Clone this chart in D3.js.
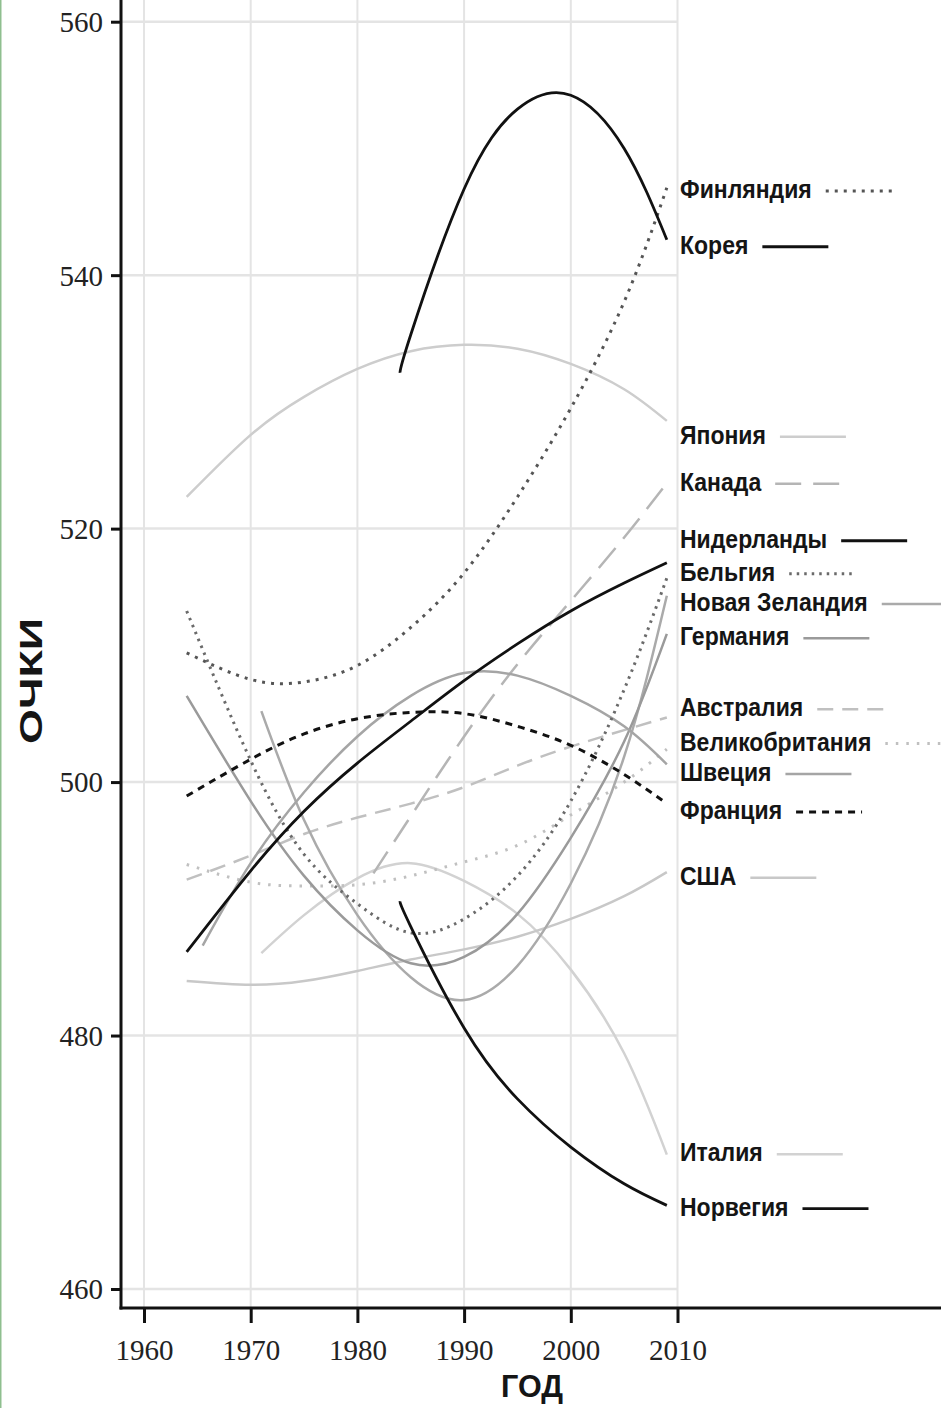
<!DOCTYPE html>
<html>
<head>
<meta charset="utf-8">
<script src="https://cdn.jsdelivr.net/npm/d3@7"></script>
<style>
  body { margin: 0; background: #fff; }
  svg { display: block; }
</style>
</head>
<body>
<div id="chart"></div>
<script>
(function () {
var W = 941, H = 1408;

// series names, in legend order
var countries = ["Финляндия", "Корея", "Япония", "Канада", "Нидерланды", "Бельгия",
  "Новая Зеландия", "Германия", "Австралия", "Великобритания", "Швеция", "Франция",
  "США", "Италия", "Норвегия"];

// years each series is sampled at
var yearsFull = [1964, 1970, 1975, 1980, 1985, 1990, 1995, 2000, 2005, 2009];
var yearsKorea = [1984, 1985, 1990, 1995, 2000, 2005, 2009];
var yearsCanada = [1981.5, 1985, 1990, 1995, 2000, 2005, 2009];
var yearsLate = [1971, 1975, 1980, 1985, 1990, 1995, 2000, 2005, 2009];
var yearsSweden = [1965.5, 1970, 1975, 1980, 1985, 1990, 1995, 2000, 2005, 2009];
var yearsNorway = [1984, 1985, 1990, 1995, 2000, 2005, 2009];

// smoothed scores
var finland = [510.2, 508.1, 507.9, 509.2, 512.2, 516.5, 522.5, 529.5, 537.9, 546.9];
var korea = [532.3, 535.3, 546.8, 553.1, 554.2, 550.0, 542.8];
var japan = [522.5, 527.4, 530.4, 532.6, 534.0, 534.5, 534.2, 533.0, 531.0, 528.5];
var canada = [492.8, 497.3, 503.6, 509.3, 514.3, 519.3, 523.6];
var netherlands = [486.6, 493.0, 497.7, 501.5, 504.8, 508.0, 510.9, 513.5, 515.7, 517.3];
var belgium = [513.5, 501.7, 494.3, 490.4, 488.1, 489.2, 492.6, 498.5, 507.3, 516.1];
var newZealand = [505.6, 497.0, 489.5, 484.6, 482.8, 485.5, 492.0, 502.0, 514.7];
var germany = [506.8, 498.5, 492.6, 488.3, 485.7, 486.2, 489.6, 495.6, 503.2, 511.7];
var australia = [492.3, 494.2, 495.9, 497.2, 498.3, 499.6, 501.3, 502.8, 504.1, 505.1];
var uk = [493.5, 492.1, 491.8, 491.9, 492.6, 493.7, 495.0, 497.4, 500.0, 502.6];
var sweden = [487.1, 493.6, 499.2, 503.6, 506.8, 508.6, 508.4, 506.8, 504.4, 501.4];
var france = [498.9, 501.8, 503.8, 505.0, 505.5, 505.4, 504.4, 502.9, 500.6, 498.3];
var usa = [484.3, 484.0, 484.3, 485.1, 486.0, 486.8, 487.8, 489.2, 491.0, 492.9];
var italy = [486.5, 489.5, 492.4, 493.6, 492.2, 489.6, 485.2, 478.6, 470.6];
var norway = [490.6, 488.6, 480.6, 475.0, 471.2, 468.3, 466.6];

// where each name label sits, in score units
var labelScores = [546.8, 542.4, 527.4, 523.7, 519.2, 516.6, 514.2, 511.5,
  505.9, 503.2, 500.8, 497.8, 492.6, 470.8, 466.5];

var xTicks = [1960, 1970, 1980, 1990, 2000, 2010];
var yTicks = [460, 480, 500, 520, 540, 560];

var seriesYears = [yearsFull, yearsKorea, yearsFull, yearsCanada, yearsFull, yearsFull,
  yearsLate, yearsFull, yearsFull, yearsFull, yearsSweden, yearsFull, yearsFull, yearsLate, yearsNorway];
var seriesValues = [finland, korea, japan, canada, netherlands, belgium, newZealand, germany,
  australia, uk, sweden, france, usa, italy, norway];

// line look per series
var styles = [
  { c: "#555", w: 3, d: "3,6" },
  { c: "#111", w: 2.8, d: null },
  { c: "#cdcdcd", w: 2.5, d: null },
  { c: "#b5b5b5", w: 2.5, d: "26,12" },
  { c: "#111", w: 2.8, d: null },
  { c: "#6a6a6a", w: 3, d: "2.5,5" },
  { c: "#aaa", w: 2.5, d: null },
  { c: "#9a9a9a", w: 2.5, d: null },
  { c: "#c0c0c0", w: 2.5, d: "16,9" },
  { c: "#c0c0c0", w: 3, d: "2.5,8" },
  { c: "#a5a5a5", w: 2.5, d: null },
  { c: "#111", w: 3, d: "7,6" },
  { c: "#c8c8c8", w: 2.5, d: null },
  { c: "#d2d2d2", w: 2.5, d: null },
  { c: "#111", w: 2.8, d: null }
];

var x = d3.scaleLinear().domain([1960, 2010]).range([144, 677.5]);
var y = d3.scaleLinear().domain([460, 560]).range([1289, 21.7]);
var axisX = 121, axisY = 1308;

var svg = d3.select("#chart").append("svg").attr("width", W).attr("height", H);
svg.append("rect").attr("width", W).attr("height", H).attr("fill", "#fff");

// grid
svg.append("g").selectAll("line").data(xTicks).enter().append("line")
  .attr("x1", function (d) { return x(d); }).attr("x2", function (d) { return x(d); })
  .attr("y1", 0).attr("y2", axisY)
  .attr("stroke", "#e4e4e4").attr("stroke-width", 2);
svg.append("g").selectAll("line").data(yTicks).enter().append("line")
  .attr("x1", axisX).attr("x2", x(2010))
  .attr("y1", function (d) { return y(d); }).attr("y2", function (d) { return y(d); })
  .attr("stroke", "#e4e4e4").attr("stroke-width", 2.5);

// curves
var line = d3.line()
  .x(function (p) { return x(p[0]); })
  .y(function (p) { return y(p[1]); })
  .curve(d3.curveNatural);

var order = [13, 12, 2, 8, 9, 3, 6, 7, 10, 5, 0, 11, 4, 1, 14];
order.forEach(function (i) {
  var pts = seriesYears[i].map(function (yr, k) { return [yr, seriesValues[i][k]]; });
  var s = styles[i];
  svg.append("path")
    .attr("d", line(pts))
    .attr("fill", "none")
    .attr("stroke", s.c)
    .attr("stroke-width", s.w)
    .attr("stroke-dasharray", s.d)
    .attr("stroke-linecap", "butt");
});

// name labels with line samples
var lab = svg.append("g");
countries.forEach(function (name, i) {
  var ly = y(labelScores[i]);
  var t = lab.append("text")
    .attr("x", 680).attr("y", ly)
    .attr("dy", "0.36em")
    .attr("font-family", "'Liberation Sans', Arial, sans-serif")
    .attr("font-weight", "bold")
    .attr("font-size", 25)
    .attr("fill", "#151515")
    .text(name);
  var len = t.node().getComputedTextLength();
  var tl = len * 0.92;
  t.attr("textLength", tl).attr("lengthAdjust", "spacingAndGlyphs");
  var s = styles[i];
  lab.append("line")
    .attr("x1", 680 + tl + 14).attr("x2", 680 + tl + 80)
    .attr("y1", ly + 2).attr("y2", ly + 2)
    .attr("stroke", s.c).attr("stroke-width", s.w)
    .attr("stroke-dasharray", s.d);
});

// axes
var gy = svg.append("g").attr("transform", "translate(" + axisX + ",0)")
  .call(d3.axisLeft(y).tickValues(yTicks).tickSize(10).tickPadding(8));
var gx = svg.append("g").attr("transform", "translate(0," + axisY + ")")
  .call(d3.axisBottom(x).tickValues(xTicks).tickSize(15).tickPadding(16).tickFormat(d3.format("d")));
[gx, gy].forEach(function (g) {
  g.select(".domain").remove();
  g.selectAll(".tick line").attr("stroke", "#111").attr("stroke-width", 3);
  g.selectAll(".tick text")
    .attr("font-family", "'Liberation Serif', 'Times New Roman', serif")
    .attr("font-size", 29)
    .attr("fill", "#222");
});
gy.selectAll(".tick text").attr("dy", "0.34em");

svg.append("line").attr("x1", axisX).attr("x2", axisX).attr("y1", 0).attr("y2", axisY + 1.5)
  .attr("stroke", "#111").attr("stroke-width", 3);
svg.append("line").attr("x1", axisX - 1.5).attr("x2", W).attr("y1", axisY).attr("y2", axisY)
  .attr("stroke", "#111").attr("stroke-width", 3);

// axis titles
svg.append("text")
  .attr("x", 532).attr("y", 1397)
  .attr("text-anchor", "middle")
  .attr("font-family", "'Liberation Sans', Arial, sans-serif")
  .attr("font-weight", "bold").attr("font-size", 31)
  .attr("textLength", 62).attr("lengthAdjust", "spacingAndGlyphs")
  .attr("fill", "#151515")
  .text("ГОД");
svg.append("text")
  .attr("transform", "translate(42,681) rotate(-90)")
  .attr("text-anchor", "middle")
  .attr("font-family", "'Liberation Sans', Arial, sans-serif")
  .attr("font-weight", "bold").attr("font-size", 32)
  .attr("textLength", 126).attr("lengthAdjust", "spacingAndGlyphs")
  .attr("fill", "#151515")
  .text("ОЧКИ");

// thin edge line seen on the left of the scan
svg.append("line").attr("x1", 0.75).attr("x2", 0.75).attr("y1", 0).attr("y2", H)
  .attr("stroke", "#8fbf8f").attr("stroke-width", 1.5);
})();
</script>
</body>
</html>
